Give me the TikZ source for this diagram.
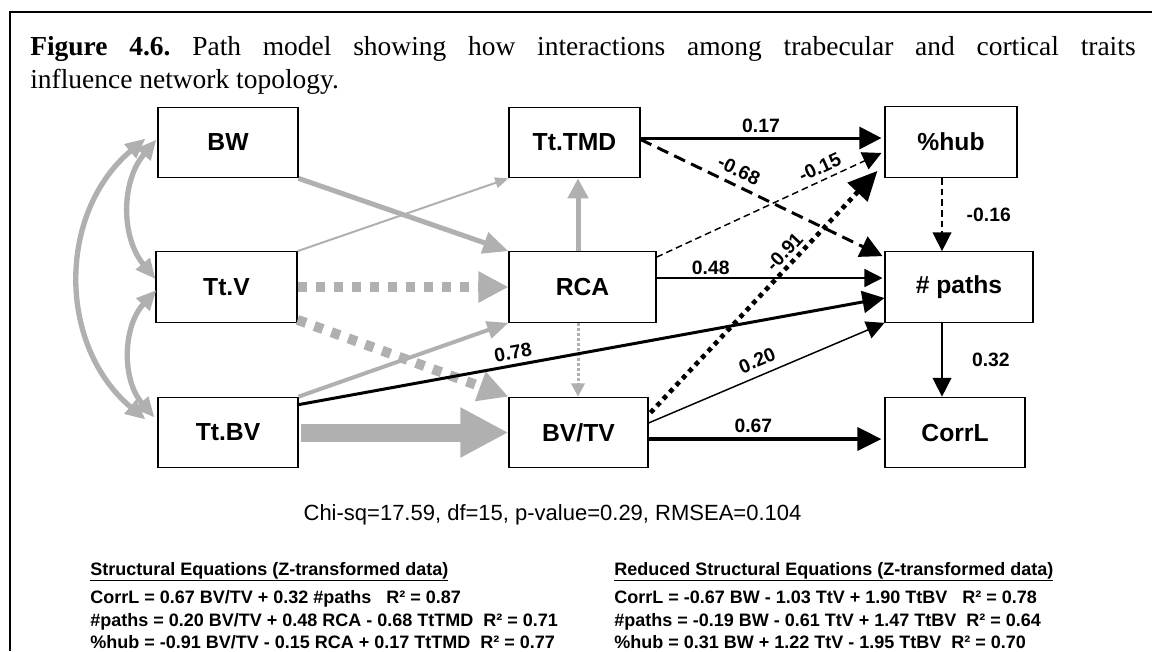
\documentclass[tikz,border=0pt]{standalone}
\usepackage{fontspec}
\setmainfont{Liberation Sans}
\newfontfamily\captionserif{Liberation Serif}
\usetikzlibrary{arrows.meta,calc}
\definecolor{pathgray}{RGB}{176,176,176}
\tikzset{
  trait/.style={draw, line width=0.8pt, minimum width=#1, minimum height=53pt, inner sep=0pt, font=\fontsize{18.5}{20}\selectfont\bfseries},
  coef/.style={inner sep=1pt, font=\fontsize{14.5}{16}\selectfont\bfseries},
  eqn/.style={anchor=base west, inner sep=0pt, font=\fontsize{13.5}{16}\selectfont\bfseries},
  graypath/.style={draw=pathgray, line width=#1},
  blackpath/.style={draw=black, line width=#1},
  squaredash/.style={dash pattern=on 6.75pt off 6.75pt},
  pointer/.style 2 args={-{Triangle[length=#1,width=#2]}},
  twoway/.style 2 args={{Triangle[length=#1,width=#2]}-{Triangle[length=#1,width=#2]}}
}
\begin{document}
\frenchspacing
\begin{tikzpicture}[x=0.75pt, y=-0.75pt]
  \useasboundingbox (0,0) rectangle (1152,651);
  \draw[line width=1.1pt] (10,651) -- (10,12) -- (1152,12);
  \node[anchor=base west, inner sep=0pt, font=\captionserif\fontsize{20.6}{24}\selectfont] (title) at (30,55) {\makebox[829pt][s]{\textbf{Figure 4.6.} Path model showing how interactions among trabecular and cortical traits}};
  \node[anchor=base west, inner sep=0pt, font=\captionserif\fontsize{20.6}{24}\selectfont] (titlecont) at (30,88) {influence network topology.};

  \node[trait=105pt] (BW) at (228,142.5) {BW};
  \node[trait=105.75pt] (TtV) at (226.5,287) {Tt.V};
  \node[trait=105pt] (TtBV) at (228,432.5) {Tt.BV};
  \node[trait=98.25pt] (TtTMD) at (574.5,142.5) {Tt.TMD};
  \node[trait=110.25pt] (RCA) at (582.5,287) {RCA};
  \node[trait=104.25pt] (BVTV) at (578.5,432.5) {BV/TV};
  \node[trait=99pt] (hub) at (951,142) {\%hub};
  \node[trait=111pt] (paths) at (959,287) {\# paths};
  \node[trait=105pt] (CorrL) at (955,432.5) {CorrL};

  \draw[graypath=4pt, twoway={15pt}{13pt}] ($(BW.west)+(-12,-4)$) to[bend right=50, looseness=1.05] ($(TtBV.west)+(-12,-13)$);
  \draw[graypath=4pt, twoway={15pt}{13pt}] ($(BW.west)+(-1,-3)$) to[bend right=40] ($(TtV.west)+(0,-8)$);
  \draw[graypath=4pt, twoway={15pt}{13pt}] ($(TtV.west)+(1,3)$) to[bend right=42] ($(TtBV.west)+(-3,-15)$);

  \draw[graypath=3.75pt, pointer={19pt}{16pt}] (BW.south east) -- (RCA.north west);
  \draw[graypath=1.5pt, pointer={10pt}{8pt}] (TtV.north east) -- (TtTMD.south west);
  \draw[graypath=7.5pt, squaredash, pointer={22.5pt}{22pt}] (TtV.east) -- (RCA.west);
  \draw[graypath=7.5pt, squaredash, pointer={22.5pt}{22pt}] ($(TtV.south east)+(0,-3)$) -- (BVTV.north west);
  \draw[graypath=3pt, pointer={16pt}{13pt}] (TtBV.north east) -- (RCA.south west);
  \draw[graypath=13.5pt, pointer={36pt}{35pt}] ($(TtBV.east)+(2,0)$) -- (BVTV.west);
  \draw[graypath=3.75pt, pointer={15pt}{15pt}] ($(RCA.north)+(-4.5,0)$) -- ($(TtTMD.south)+(3.5,0)$);
  \draw[graypath=2.25pt, dash pattern=on 2.25pt off 1.5pt, pointer={10pt}{10pt}] ($(RCA.south)+(-4.5,0)$) -- ($(BVTV.north)+(-0.5,0)$);

  \draw[blackpath=2.25pt, pointer={16.5pt}{16.5pt}] ($(TtBV.north east)+(0,8)$) -- node[coef, pos=0.37, sloped, above=2.5pt] {0.78} ($(paths.west)+(0,11)$);
  \draw[blackpath=2.25pt, pointer={16.5pt}{16.5pt}] ($(TtTMD.east)+(0,-4.5)$) -- node[coef, midway, above=2pt] {0.17} ($(hub.west)+(-3,-4)$);
  \draw[blackpath=2.25pt, dash pattern=on 9pt off 5pt, pointer={16.5pt}{16.5pt}] ($(TtTMD.east)+(0,-3)$) -- node[coef, pos=0.38, sloped, above=4pt] {-0.68} ($(paths.north west)+(-2,5)$);
  \draw[blackpath=1.1pt, dash pattern=on 5pt off 3pt, pointer={14pt}{14pt}] ($(RCA.north east)+(0,6)$) -- node[coef, pos=0.75, sloped, above=3pt] {-0.15} ($(hub.west)+(-3,11)$);
  \draw[blackpath=3.5pt, dash pattern=on 3.5pt off 3.5pt, pointer={22pt}{20pt}] ($(BVTV.north east)+(2,16)$) -- node[coef, pos=0.63, sloped, above=1.5pt] {-0.91} ($(hub.south west)+(-7,-7)$);
  \draw[blackpath=1.1pt, pointer={13.5pt}{13.5pt}] ($(RCA.east)+(0,-9)$) -- node[coef, pos=0.24, above=1pt] {0.48} ($(paths.west)+(-2,-9)$);
  \draw[blackpath=1.1pt, pointer={13.5pt}{13.5pt}] ($(BVTV.east)+(0,-9.5)$) -- node[coef, pos=0.485, sloped, above=4.5pt] {0.20} (paths.south west);
  \draw[blackpath=3pt, pointer={18pt}{17pt}] ($(BVTV.east)+(0,6.5)$) -- node[coef, pos=0.45, above=2pt] {0.67} ($(CorrL.west)+(-3,6.5)$);
  \draw[blackpath=1.1pt, dash pattern=on 5pt off 3pt, pointer={14pt}{14pt}] ($(hub.south)+(-9,0)$) -- node[coef, midway, right=17pt] {-0.16} ($(paths.north)+(-17,0)$);
  \draw[blackpath=1.1pt, pointer={14pt}{14pt}] ($(paths.south)+(-17,0)$) -- node[coef, midway, right=21pt] {0.32} ($(CorrL.north)+(-13,0)$);

  \node[inner sep=0pt, font=\fontsize{16.5}{18}\selectfont] (fitline) at (552.5,515) {Chi-sq=17.59, df=15, p-value=0.29, RMSEA=0.104};

  \node[eqn] (structhead) at (90,575) {\underline{Structural Equations (Z-transformed data)}};
  \foreach \eq [count=\i] in {{CorrL = 0.67 BV/TV + 0.32 \#paths\ \ \ R² = 0.87}, {\#paths = 0.20 BV/TV + 0.48 RCA - 0.68 TtTMD\ \ R² = 0.71}, {\%hub = -0.91 BV/TV - 0.15 RCA + 0.17 TtTMD\ \ R² = 0.77}}
    \node[eqn] (struct\i) at (90,581+22.5*\i) {\eq};
  \node[eqn] (reducedhead) at (614,575) {\underline{Reduced Structural Equations (Z-transformed data)}};
  \foreach \eq [count=\i] in {{CorrL = -0.67 BW - 1.03 TtV + 1.90 TtBV\ \ \ R² = 0.78}, {\#paths = -0.19 BW - 0.61 TtV + 1.47 TtBV\ \ R² = 0.64}, {\%hub = 0.31 BW + 1.22 TtV - 1.95 TtBV\ \ R² = 0.70}}
    \node[eqn] (reduced\i) at (614,581+22.5*\i) {\eq};
\end{tikzpicture}
\end{document}
